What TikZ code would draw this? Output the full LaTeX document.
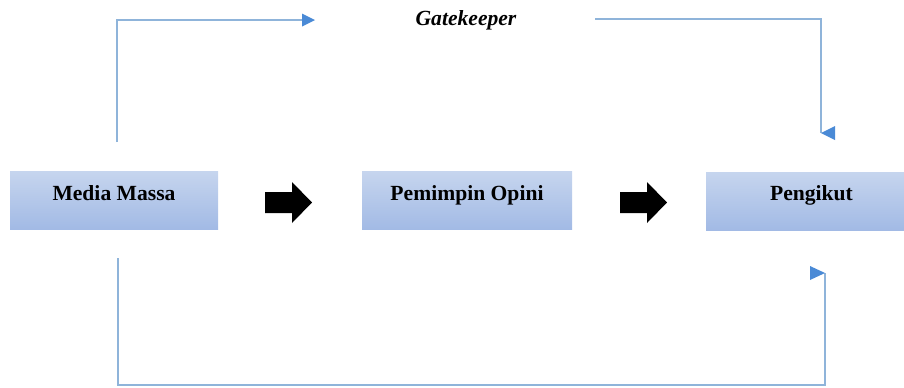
\documentclass[tikz,border=0pt]{standalone}
\usepackage{fontspec}
\setmainfont{Liberation Serif}
\definecolor{lineblue}{HTML}{8FB4DA}
\definecolor{tipblue}{HTML}{4A8AD6}
\definecolor{boxtop}{HTML}{C6D5EE}
\definecolor{boxbot}{HTML}{A2BAE5}
\begin{document}
\begin{tikzpicture}[x=0.75pt,y=-0.75pt,
  boxnode/.style={draw=none, top color=boxtop, bottom color=boxbot, inner sep=0pt, minimum height=43.5pt},
  lbl/.style={anchor=base, inner sep=0pt, font=\fontsize{16.2}{19}\selectfont\bfseries},
  conn/.style={draw=lineblue, line width=1pt},
  tip/.style={fill=tipblue, draw=none},
  bigarrow/.style={fill=black, draw=none}]
\useasboundingbox (0,0) rectangle (904,387);
\begin{scope}
\clip (0,0) rectangle (904,387);
\node[boxnode, minimum width=156pt] (mm) at (114,200) {};
\node[boxnode, minimum width=157.5pt] (po) at (467,200.5) {};
\node[boxnode, minimum width=157.5pt] (pg) at (811,201) {};
\end{scope}
\node[lbl] (mmt) at (114,200) {Media Massa};
\node[lbl] (pot) at (467,200) {Pemimpin Opini};
\node[lbl] (pgt) at (811.5,200) {Pengikut};
\node[lbl, font=\fontsize{16.2}{19}\selectfont\bfseries\itshape] (gk) at (466,25) {Gatekeeper};
% black block arrows
\foreach \dx/\nm in {0/a1,355/a2}{
  \coordinate (\nm) at (265+\dx,202.5);
  \fill[bigarrow] (\nm) ++(0,-10.5) -- ++(27,0) -- ++(0,-10) -- ++(20,20.5) -- ++(-20,20.5) -- ++(0,-10) -- ++(-27,0) -- cycle;
}
% blue connectors
\coordinate (c1) at (117,142);
\coordinate (c2) at (117,20);
\coordinate (c3) at (302,20);
\draw[conn] (c1) -- (c2) -- (c3);
\fill[tip] (302,13.5) -- (315,20) -- (302,26.5) -- cycle;
\coordinate (d1) at (595,19);
\coordinate (d2) at (821,19);
\coordinate (d3) at (821,133);
\draw[conn] (d1) -- (d2) -- (d3);
\fill[tip] (835,126) -- (821,133) -- (835,140) -- cycle;
\coordinate (e1) at (118,258);
\coordinate (e2) at (118,385);
\coordinate (e3) at (825,385);
\coordinate (e4) at (825,273);
\draw[conn] (e1) -- (e2) -- (e3) -- (e4);
\fill[tip] (810,266) -- (825,273) -- (810,280) -- cycle;
\end{tikzpicture}
\end{document}
